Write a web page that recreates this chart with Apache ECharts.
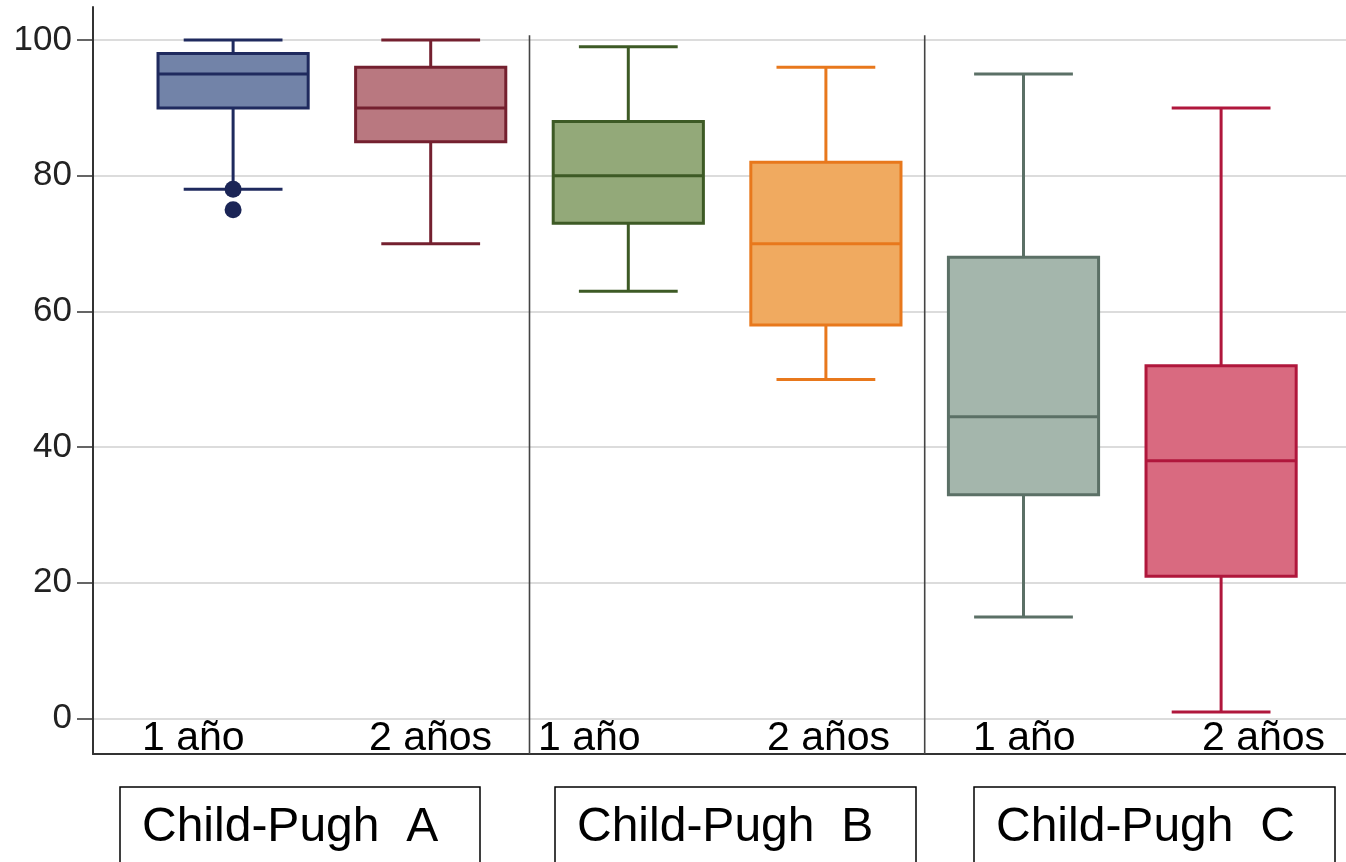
<!DOCTYPE html>
<html>
<head>
<meta charset="utf-8">
<script src="https://cdn.jsdelivr.net/npm/echarts@6/dist/echarts.min.js"></script>
<style>
html,body{margin:0;padding:0;background:#fff;}
#chart{width:1346px;height:862px;}
</style>
</head>
<body>
<div id="chart"></div>
<script>
// ---- data ----
const categories = ['A 1 año', 'A 2 años', 'B 1 año', 'B 2 años', 'C 1 año', 'C 2 años'];
const periodLabels = ['1 año', '2 años', '1 año', '2 años', '1 año', '2 años'];
const groupLabels = ['Child-Pugh  A', 'Child-Pugh  B', 'Child-Pugh  C'];
// [low whisker, Q1, median, Q3, high whisker]
const lowWhisker = [78, 70, 63, 50, 15, 1];
const q1Values   = [90, 85, 73, 58, 33, 21];
const medians    = [95, 90, 80, 70, 44.5, 38];
const q3Values   = [98, 96, 88, 82, 68, 52];
const highWhisker= [100, 100, 99, 96, 95, 90];
const outliers   = [[0, 78], [0, 75]];
const yTicks     = [0, 20, 40, 60, 80, 100];
const separatorAfter = [1, 3];
const fills   = ['#7283a8', '#b97880', '#93a979', '#f0aa60', '#a4b6ac', '#d96a80'];
const borders = ['#1f2a5e', '#74202f', '#3d5a25', '#e8781c', '#5b7066', '#b0173c'];

const Y_MIN = -5.2, Y_MAX = 104.87;

const boxData = categories.map((c, i) => [i, lowWhisker[i], q1Values[i], medians[i], q3Values[i], highWhisker[i]]);

function renderBox(params, api) {
  const i = api.value(0);
  const cx = api.coord([i, 0])[0];
  const band = api.size([1, 0])[0];
  const bw = band * 0.76, cw = band * 0.5;
  const yl = api.coord([i, api.value(1)])[1];
  const y1 = api.coord([i, api.value(2)])[1];
  const ym = api.coord([i, api.value(3)])[1];
  const y3 = api.coord([i, api.value(4)])[1];
  const yh = api.coord([i, api.value(5)])[1];
  const st = {stroke: borders[i], lineWidth: 3, fill: null};
  return {
    type: 'group',
    children: [
      {type: 'line', shape: {x1: cx, y1: yl, x2: cx, y2: y1}, style: st},
      {type: 'line', shape: {x1: cx, y1: y3, x2: cx, y2: yh}, style: st},
      {type: 'line', shape: {x1: cx - cw / 2, y1: yl, x2: cx + cw / 2, y2: yl}, style: st},
      {type: 'line', shape: {x1: cx - cw / 2, y1: yh, x2: cx + cw / 2, y2: yh}, style: st},
      {type: 'rect', shape: {x: cx - bw / 2, y: y3, width: bw, height: y1 - y3},
        style: {fill: fills[i], stroke: borders[i], lineWidth: 3}},
      {type: 'line', shape: {x1: cx - bw / 2, y1: ym, x2: cx + bw / 2, y2: ym}, style: st}
    ]
  };
}

function renderSep(params, api) {
  const i = api.value(0);
  const band = api.size([1, 0])[0];
  const x = api.coord([i, 0])[0] + band / 2;
  const yt = api.coord([i, api.value(1)])[1];
  const yb = api.coord([i, Y_MIN])[1];
  return {type: 'line', shape: {x1: x, y1: yt, x2: x, y2: yb}, style: {stroke: '#444', lineWidth: 1.6}};
}

const chart = echarts.init(document.getElementById('chart'));

const graphics = [];
const labelLefts = [142, 369, 538, 767, 973, 1202];
periodLabels.forEach((t, i) => {
  graphics.push({type: 'text', x: labelLefts[i], y: 739, z: 10,
    style: {text: t, font: '41px "Liberation Sans", Arial, sans-serif', fill: '#000', align: 'left', verticalAlign: 'middle'}});
});
const groupBoxes = [[120, 480], [555, 916], [974, 1335]];
groupLabels.forEach((t, i) => {
  graphics.push({type: 'rect', shape: {x: groupBoxes[i][0], y: 787, width: groupBoxes[i][1] - groupBoxes[i][0], height: 120},
    style: {fill: '#fff', stroke: '#000', lineWidth: 1.5}});
  graphics.push({type: 'text', x: groupBoxes[i][0] + 22, y: 828,
    style: {text: t, font: '48px "Liberation Sans", Arial, sans-serif', fill: '#000', align: 'left', verticalAlign: 'middle'}});
});

chart.setOption({
  animation: false,
  backgroundColor: '#fff',
  grid: [
    {left: 93, right: 0, top: 7, bottom: 108},
    {left: 93, right: 0, top: 40, bottom: 143.7},
    {left: 134.3, right: 26.1, top: 7, bottom: 108}
  ],
  xAxis: [
    {gridIndex: 0, type: 'value', min: 0, max: 1, axisLine: {show: true, onZero: false, lineStyle: {color: '#333', width: 2}},
      axisTick: {show: false}, axisLabel: {show: false}, splitLine: {show: false}},
    {gridIndex: 1, type: 'value', min: 0, max: 1, show: false},
    {gridIndex: 2, type: 'category', data: categories, show: false, boundaryGap: true}
  ],
  yAxis: [
    {gridIndex: 0, type: 'value', min: Y_MIN, max: Y_MAX, axisLine: {show: true, lineStyle: {color: '#333', width: 2}},
      axisTick: {show: false}, axisLabel: {show: false}, splitLine: {show: false}},
    {gridIndex: 1, type: 'value', min: yTicks[0], max: yTicks[yTicks.length - 1], interval: 20,
      axisLine: {show: false},
      axisTick: {show: true, length: 16, lineStyle: {color: '#333', width: 1.5}},
      axisLabel: {show: true, margin: 21, fontSize: 35, color: '#222', fontFamily: '"Liberation Sans", Arial, sans-serif'},
      splitLine: {show: true, lineStyle: {color: '#dcdcdc', width: 2}}},
    {gridIndex: 2, type: 'value', min: Y_MIN, max: Y_MAX, show: false}
  ],
  series: [
    {type: 'custom', xAxisIndex: 2, yAxisIndex: 2, renderItem: renderBox, data: boxData, z: 3},
    {type: 'custom', xAxisIndex: 2, yAxisIndex: 2, renderItem: renderSep,
      data: separatorAfter.map(i => [i, 100.7]), z: 2},
    {type: 'scatter', xAxisIndex: 2, yAxisIndex: 2, data: outliers, symbolSize: 17,
      itemStyle: {color: '#1b2556', opacity: 1}, z: 4}
  ],
  graphic: graphics
});
</script>
</body>
</html>
